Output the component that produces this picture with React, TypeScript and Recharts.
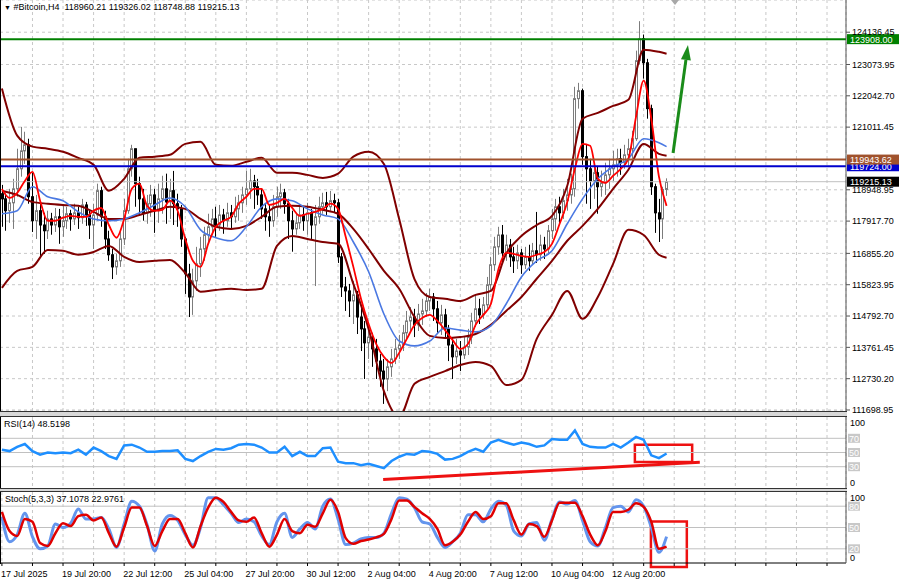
import React from "react";
import {
  ComposedChart,
  Bar,
  Line,
  XAxis,
  YAxis,
  CartesianGrid,
  ReferenceLine,
  ReferenceArea,
} from "recharts";

const FONT = "'Liberation Sans', Arial, sans-serif";

// H4 candles, bar 0 = 17 Jul 2025 04:00; open = previous close
const firstOpen = 118820;
const closes = [
  118650, 118260, 118520, 118980, 119640, 120230, 120430, 118720, 117930, 118260,
  117790, 117600, 117990, 117790, 118060, 117730, 117930, 118160, 117990, 118190,
  118030, 118450, 118120, 117790, 118120, 118920, 118060, 117330, 116810, 116410,
  116610, 117330, 118260, 119640, 120300, 119150, 118650, 118190, 118490, 118780,
  118260, 118650, 118980, 118550, 118920, 118490, 118320, 117330, 116180, 115420,
  115950, 116510, 117000, 117470, 117730, 117990, 117790, 118120, 117930, 118190,
  118060, 118320, 118520, 118780, 118980, 119240, 119050, 118780, 118320, 118060,
  117930, 118390, 118720, 118850, 118490, 117930, 117660, 117860, 118120, 117930,
  118190, 117790, 118060, 118390, 118520, 118390, 118590, 118520, 116740, 115750,
  115620, 115290, 115490, 114760, 114370, 113910, 114100, 113710, 113310, 112980,
  112720, 113120, 113380, 113710, 113840, 114240, 114630, 114760, 114500, 114860,
  114960, 115290, 115420, 115030, 114570, 114830, 114370, 113840, 113450, 113640,
  113510, 113770, 114100, 114630, 115030, 114830, 115160, 115820, 116480, 117070,
  117460, 116870, 117130, 116740, 116610, 116870, 116480, 116740, 116610, 116940,
  116810, 117130, 117000, 117600, 117990, 118390, 118190, 118590, 118780, 118980,
  121950, 122210, 120040, 119640, 119240, 119510, 119050, 119180, 119440, 119640,
  119770, 119970, 119840, 120100, 120300, 120630, 123200, 123920, 123130, 121620,
  119050, 118190, 117990, 118960, 119215.13,
];
const highs = [
  119110, 118820, 118980, 119310, 120300, 121020, 120860, 120630, 119510, 118780,
  118490, 118190, 118260, 118190, 118350, 118320, 118420, 118390, 118290, 118490,
  118390, 118650, 118550, 118260, 118490, 119150, 119050, 118260, 117600, 117000,
  116840, 117660, 118650, 119970, 120430, 120300, 119380, 118980, 118780, 119110,
  118980, 119150, 119410, 119480, 119310, 119570, 118820, 118450, 117400, 116510,
  116350, 117070, 117400, 117730, 118160, 118320, 118390, 118450, 118320, 118520,
  118450, 118720, 118780, 119050, 119570, 119640, 119440, 119310, 118980, 118490,
  118450, 118780, 119050, 119150, 118980, 118650, 118260, 118190, 118450, 118390,
  118520, 118320, 118450, 118720, 118850, 118880, 118910, 118820, 118650, 116870,
  116080, 115850, 115950, 115620, 115090, 114630, 114370, 114240, 114040, 113540,
  113380, 113380, 113710, 114040, 114170, 114500, 114960, 115090, 115030, 115190,
  115360, 115550, 115690, 115550, 115290, 115160, 115030, 114500, 114100, 114040,
  113970, 114100, 114370, 114900, 115490, 115360, 115420, 116080, 116740, 117400,
  117730, 117790, 117470, 117330, 117070, 117140, 117000, 117070, 117140, 117200,
  118220, 117470, 117400, 117790, 118320, 118650, 118720, 118980, 119310, 119480,
  122340, 122470, 122280, 120430, 119970, 119840, 119710, 119580, 119840, 119970,
  120230, 120300, 120300, 120430, 120630, 120890, 123530, 124500, 124060, 123260,
  121750, 119150, 118650, 119050, 119326.02,
];
const lows = [
  117730, 117600, 117860, 117660, 118720, 119380, 119800, 118490, 117560, 117330,
  116770, 116840, 117330, 117470, 117560, 117170, 117400, 117660, 117600, 117790,
  117660, 117830, 117760, 117330, 117000, 117930, 117730, 117000, 116610, 116010,
  116150, 116410, 117130, 118160, 119380, 118390, 118160, 117930, 117830, 118060,
  117530, 117860, 118160, 117830, 117990, 117790, 117730, 117070, 115520, 114760,
  114830, 115620, 116080, 116610, 117170, 117470, 117400, 117600, 117500, 117730,
  117660, 117860, 117930, 118190, 118450, 118650, 118320, 118450, 117990, 117600,
  117400, 117730, 118060, 118320, 118160, 117330, 116910, 117470, 117660, 117600,
  117470, 117330, 115780, 117830, 118160, 118120, 118260, 118190, 116540, 115420,
  114960, 114760, 114530, 114200, 113640, 112720, 113380, 113120, 112720, 112460,
  111900, 112320, 112790, 113210, 113380, 113640, 114040, 114300, 114100, 114300,
  114500, 114760, 114960, 114630, 114240, 114170, 114040, 113310, 112720, 113210,
  112980, 113380, 113510, 113870, 114430, 114530, 114700, 115030, 115620, 116280,
  116810, 116610, 116610, 116410, 116210, 116340, 116180, 116340, 116280, 116480,
  116540, 116610, 116670, 116810, 117330, 117600, 117790, 117990, 118260, 118490,
  118720, 121620, 119770, 118490, 118320, 118650, 118160, 118720, 118780, 118980,
  119240, 119380, 119440, 119640, 119710, 119970, 120560, 123070, 122610, 121290,
  118780, 117530, 117230, 117330, 118748.88,
];

// red fast MA, one value every 2 bars (0, 2, ... 174)
const fastMA = [
  118980, 118680, 118850, 119240, 119540, 118590, 117930, 117930, 118030, 118090,
  118060, 118060, 118260, 118350, 117790, 117370, 117990, 118980, 119150, 118420,
  118260, 118290, 118590, 118260, 117330, 116610, 116410, 117170, 117730, 117930,
  118060, 118490, 118720, 118980, 118980, 118450, 118520, 118650, 118350, 118090,
  118160, 118220, 118320, 118490, 118320, 117400, 116410, 115360, 114530, 113870,
  113450, 113250, 113580, 114040, 114500, 114730, 114830, 114630, 114330, 114000,
  113710, 113870, 114500, 114830, 115190, 116340, 116870, 116840, 116770, 116740,
  116810, 116900, 117170, 117830, 118550, 119640, 120460, 120400, 119310, 119180,
  119410, 119640, 119970, 121350, 122540, 121290, 119380, 118420,
];

// blue MA and Bollinger bands, one value every 4 bars (0, 4, ... 172, 174)
const slowMA = [
  118160, 118260, 119050, 118720, 118590, 118220, 117990, 117930, 117990, 118190,
  118450, 118680, 118390, 117630, 117370, 117270, 117730, 118390, 118650, 118590,
  118320, 118120, 117990, 117230, 116250, 114860, 113970, 113810, 113970, 114400,
  114330, 114270, 114470, 115190, 116080, 116610, 116940, 117830, 118650, 119310,
  119710, 119970, 120630, 120500, 120370,
];
const bandUpper = [
  122280, 120730, 120370, 120300, 120200, 120000, 119770, 118920, 119310, 120000,
  120040, 120100, 120460, 120530, 119770, 119740, 119870, 120000, 119510, 119510,
  119440, 119340, 119480, 120040, 120200, 119800, 117990, 116010, 115420, 115360,
  115290, 115490, 115620, 116840, 117430, 117790, 118090, 119080, 121290, 121480,
  121710, 121910, 123560, 123490, 123430,
];
const bandMid = [
  118920, 118780, 118550, 118490, 118450, 118420, 118220, 117990, 117990, 118120,
  118260, 118390, 118320, 117990, 117730, 117660, 117760, 118060, 118390, 118420,
  118390, 118290, 118160, 117660, 117000, 116280, 115690, 114760, 114140, 114070,
  114100, 114200, 114500, 114960, 115420, 116020, 116610, 117270, 117760, 118320,
  118980, 119610, 120460, 120130, 120070,
];
const bandLower = [
  115720, 116280, 116410, 116970, 116940, 116810, 116900, 117100, 116740, 116570,
  116610, 116640, 116210, 115590, 115650, 115690, 115650, 115690, 117100, 117430,
  117330, 117230, 117170, 115850, 114370, 112320, 111470, 112560, 112790, 112980,
  113180, 113280, 113150, 112520, 112690, 114040, 114830, 115620, 114700, 115420,
  116510, 117630, 117460, 116810, 116710,
];

// indicator windows, one value every 2 bars
const rsi = [
  54, 52, 58, 62, 52, 47, 50, 49, 50, 49,
  54, 47, 57, 52, 45, 41, 60, 61, 57, 51,
  51, 52, 52, 53, 41, 38, 45, 51, 55, 54,
  56, 61, 62, 61, 57, 50, 50, 58, 45, 51,
  45, 45, 56, 57, 37, 35, 35, 32, 34, 31,
  28, 38, 44, 48, 47, 52, 51, 48, 40, 41,
  45, 51, 55, 51, 64, 68, 64, 61, 64, 62,
  58, 60, 69, 68, 68, 81, 62, 58, 57, 57,
  62, 57, 64, 72, 68, 46, 42, 48.5198,
];
const stochK = [
  65, 30, 40, 70, 37, 20, 24, 55, 50, 56,
  76, 62, 62, 64, 48, 22, 55, 87, 80, 54,
  17, 55, 67, 60, 40, 25, 50, 92, 92, 82,
  70, 57, 62, 58, 38, 26, 58, 70, 36, 48,
  57, 48, 80, 90, 62, 26, 28, 34, 36, 36,
  42, 70, 92, 90, 78, 58, 55, 36, 22, 30,
  42, 68, 68, 58, 76, 87, 82, 45, 38, 55,
  57, 32, 62, 86, 83, 88, 60, 30, 24, 50,
  78, 80, 72, 89, 80, 50, 15, 37.1078,
];
const stochD = [
  72, 45, 38, 62, 58, 28, 24, 42, 56, 52,
  66, 68, 60, 64, 42, 23, 50, 78, 78, 52,
  24, 45, 62, 62, 42, 22, 52, 78, 92, 86,
  72, 60, 58, 64, 42, 23, 40, 62, 45, 42,
  54, 51, 70, 89, 72, 35, 27, 31, 33, 36,
  41, 62, 88, 88, 79, 70, 62, 48, 25, 30,
  40, 58, 72, 62, 66, 84, 84, 60, 40, 55,
  52, 37, 60, 85, 85, 85, 66, 40, 25, 45,
  72, 72, 75, 84, 79, 58, 20, 22.9761,
];

const priceTicks = [
  124136.45, 123073.95, 122042.7, 121011.45, 118948.95, 117917.7, 116855.2,
  115823.95, 114792.7, 113761.45, 112730.2, 111698.95,
];
const timeLabels = [
  "17 Jul 2025", "19 Jul 20:00", "22 Jul 12:00", "25 Jul 04:00", "27 Jul 20:00",
  "30 Jul 12:00", "2 Aug 04:00", "4 Aug 20:00", "7 Aug 12:00", "10 Aug 04:00",
  "12 Aug 20:00",
];

const resistance = 123908.0;
const brownLevel = 119943.62;
const blueLevel = 119724.0;
const bid = 119215.13;

const X_DOMAIN: [number, number] = [-0.5, 220.97];
const gridBars = Array.from({ length: 28 }, (_, k) => k * 8);

const fastBars = fastMA.map((_, k) => k * 2);
const slowBars = slowMA.map((_, k) => Math.min(k * 4, closes.length - 1));

const priceRows: Record<string, number>[] = closes.map((close, i) => {
  const open = i === 0 ? firstOpen : closes[i - 1];
  return {
    i,
    open,
    close,
    high: Math.max(highs[i], open, close),
    low: Math.min(lows[i], open, close),
  };
});
fastBars.forEach((b, k) => {
  priceRows[b].fast = fastMA[k];
});
slowBars.forEach((b, k) => {
  priceRows[b].slow = slowMA[k];
  priceRows[b].upper = bandUpper[k];
  priceRows[b].mid = bandMid[k];
  priceRows[b].lower = bandLower[k];
});

const rsiRows = rsi.map((v, k) => ({ i: k * 2, rsi: v }));
const stochRows = stochK.map((v, k) => ({ i: k * 2, k: v, d: stochD[k] }));

function Candle(props: any) {
  const { x, y, width, height, payload } = props;
  if (!payload || y == null || height == null || isNaN(y)) return <g />;
  const top = Math.min(y, y + height);
  const h = Math.abs(height);
  const span = payload.high - payload.low || 1;
  const py = (v: number) => top + ((payload.high - v) / span) * h;
  const cx = Math.round(x + width / 2) + 0.5;
  const up = payload.close >= payload.open;
  const bTop = py(Math.max(payload.open, payload.close));
  const bBot = py(Math.min(payload.open, payload.close));
  const col = up ? "#7c7c7c" : "#000";
  return (
    <g>
      <line x1={cx} x2={cx} y1={top} y2={top + h} stroke={col} strokeWidth={1} />
      <rect
        x={cx - 1}
        y={bTop}
        width={2}
        height={Math.max(bBot - bTop, 0.8)}
        fill={up ? "#fff" : "#000"}
        stroke={col}
        strokeWidth={1}
      />
    </g>
  );
}

function PriceTag(props: any) {
  const { viewBox, text, bg } = props;
  if (!viewBox) return null;
  const x = (viewBox.x ?? 0) + (viewBox.width ?? 846) + 1;
  const y = viewBox.y ?? 0;
  return (
    <g>
      <rect x={x} y={y - 5} width={52} height={10} fill={bg} />
      <text x={x + 3} y={y + 3.5} fontSize={9} fontFamily={FONT} fill="#fff">
        {text}
      </text>
    </g>
  );
}

function Arrow(props: any) {
  const { x1, y1, x2, y2 } = props;
  if ([x1, y1, x2, y2].some((v) => v == null || isNaN(v))) return <g />;
  const ang = Math.atan2(y2 - y1, x2 - x1);
  const bx = x2 - 15 * Math.cos(ang);
  const by = y2 - 15 * Math.sin(ang);
  const px = -Math.sin(ang) * 5;
  const py = Math.cos(ang) * 5;
  return (
    <g>
      <line x1={x1} y1={y1} x2={bx} y2={by} stroke="#1a8c1a" strokeWidth={3} />
      <polygon
        points={`${x2},${y2} ${bx + px},${by + py} ${bx - px},${by - py}`}
        fill="#1a8c1a"
      />
    </g>
  );
}

function LevelTick(props: any) {
  const { x, y, payload, boxed } = props;
  const v = payload.value;
  if (boxed.includes(v)) {
    return (
      <g>
        <rect x={x - 4} y={y - 4.5} width={12} height={9} fill="#c8c8c8" />
        <text x={x - 3} y={y + 3.5} fontSize={9} fontFamily={FONT} fill="#fff">
          {v}
        </text>
      </g>
    );
  }
  return (
    <text x={x - 2} y={v === 100 ? y + 9 : y - 2.5} fontSize={9} fontFamily={FONT} fill="#000">
      {v}
    </text>
  );
}

function TimeTick(props: any) {
  const { x, y, payload } = props;
  const v = payload.value;
  const idx = v / 16;
  if (v % 16 !== 0 || idx >= timeLabels.length) return <g />;
  return (
    <text x={x - 1} y={y + 9} fontSize={9} fontFamily={FONT} fill="#000">
      {timeLabels[idx]}
    </text>
  );
}

const gridProps = { stroke: "#c8c8c8", strokeDasharray: "3 3" };
const lineBase = { dot: false, activeDot: false, isAnimationActive: false, connectNulls: true };

function Rule({ style }: { style: React.CSSProperties }) {
  return <div style={{ position: "absolute", background: "#000", ...style }} />;
}

export default function App() {
  return (
    <div
      style={{
        position: "absolute",
        left: 0,
        top: 0,
        width: 900,
        height: 586,
        background: "#fff",
        overflow: "hidden",
        fontFamily: FONT,
      }}
    >
      {/* main price window */}
      <div style={{ position: "absolute", left: 0, top: 0 }}>
        <ComposedChart width={900} height={417} data={priceRows} margin={{ top: 0, right: 0, bottom: 6, left: 0 }}>
          <CartesianGrid {...gridProps} />
          <XAxis dataKey="i" type="number" domain={X_DOMAIN} ticks={gridBars} hide />
          <YAxis
            orientation="right"
            width={54}
            domain={[111666, 125197]}
            ticks={priceTicks}
            interval={0}
            allowDataOverflow
            tickSize={4}
            stroke="#555"
            tick={{ fontSize: 9, fill: "#000", fontFamily: FONT }}
            tickFormatter={(v: number) => v.toFixed(2)}
          />
          <ReferenceLine y={bid} stroke="#c0c0c0" />
          <Bar
            dataKey={(d: any) => [d.low, d.high]}
            shape={<Candle />}
            barSize={3}
            isAnimationActive={false}
          />
          <Line dataKey="upper" type="monotone" stroke="#800000" strokeWidth={2} {...lineBase} />
          <Line dataKey="mid" type="monotone" stroke="#800000" strokeWidth={2} {...lineBase} />
          <Line dataKey="lower" type="monotone" stroke="#800000" strokeWidth={2} {...lineBase} />
          <Line dataKey="slow" type="monotone" stroke="#4a78e2" strokeWidth={1.6} {...lineBase} />
          <Line dataKey="fast" type="monotone" stroke="#ff0000" strokeWidth={1.8} {...lineBase} />
          <ReferenceLine
            y={blueLevel}
            stroke="#0000cd"
            strokeWidth={2}
            label={<PriceTag text="119724.00" bg="#0000cd" />}
          />
          <ReferenceLine
            y={brownLevel}
            stroke="#a0522d"
            strokeWidth={2}
            label={<PriceTag text="119943.62" bg="#a0522d" />}
          />
          <ReferenceLine
            y={resistance}
            stroke="#008000"
            strokeWidth={2}
            label={<PriceTag text="123908.00" bg="#008000" />}
          />
          <ReferenceLine y={bid} stroke="none" label={<PriceTag text="119215.13" bg="#000" />} />
          <ReferenceLine
            segment={[
              { x: 175.7, y: 120160 },
              { x: 179.6, y: 123716 },
            ]}
            shape={(p: any) => <Arrow {...p} />}
          />
        </ComposedChart>
      </div>

      {/* RSI window */}
      <div style={{ position: "absolute", left: 0, top: 417 }}>
        <ComposedChart width={900} height={71} data={rsiRows} margin={{ top: 0, right: 0, bottom: 0, left: 0 }}>
          <CartesianGrid {...gridProps} horizontal={false} />
          <XAxis dataKey="i" type="number" domain={X_DOMAIN} ticks={gridBars} hide />
          <YAxis
            orientation="right"
            width={54}
            domain={[0, 100]}
            ticks={[100, 70, 50, 30, 0]}
            interval={0}
            tickSize={4}
            tickLine={false}
            stroke="#555"
            tick={<LevelTick boxed={[70, 50, 30]} />}
          />
          <ReferenceLine y={70} stroke="#c0c0c0" />
          <ReferenceLine y={50} stroke="#c0c0c0" />
          <ReferenceLine y={30} stroke="#c0c0c0" />
          <Line dataKey="rsi" type="linear" stroke="#1e8fff" strokeWidth={2.5} {...lineBase} />
          <ReferenceArea x1={165.7} x2={180.7} y1={36.7} y2={61} fill="none" stroke="#ee1111" strokeWidth={2.5} />
          <ReferenceLine
            segment={[
              { x: 99.8, y: 12 },
              { x: 182.7, y: 36.3 },
            ]}
            stroke="#ee1111"
            strokeWidth={3}
          />
        </ComposedChart>
      </div>

      {/* Stochastic window with time axis */}
      <div style={{ position: "absolute", left: 0, top: 492 }}>
        <ComposedChart width={900} height={94} data={stochRows} margin={{ top: 0, right: 0, bottom: 0, left: 0 }}>
          <CartesianGrid {...gridProps} horizontal={false} />
          <XAxis
            dataKey="i"
            type="number"
            domain={X_DOMAIN}
            ticks={gridBars}
            interval={0}
            height={23}
            tickSize={3}
            stroke="#000"
            tick={<TimeTick />}
          />
          <YAxis
            orientation="right"
            width={54}
            domain={[0, 100]}
            ticks={[100, 80, 50, 20, 0]}
            interval={0}
            tickSize={4}
            tickLine={false}
            stroke="#555"
            tick={<LevelTick boxed={[80, 50, 20]} />}
          />
          <ReferenceLine y={80} stroke="#c0c0c0" />
          <ReferenceLine y={50} stroke="#c0c0c0" />
          <ReferenceLine y={20} stroke="#c0c0c0" />
          <Line dataKey="k" type="monotone" stroke="#6495ed" strokeWidth={3} {...lineBase} />
          <Line dataKey="d" type="monotone" stroke="#e00000" strokeWidth={2.5} {...lineBase} />
          <ReferenceArea
            x1={169.9}
            x2={179.3}
            y1={-5.5}
            y2={58.3}
            ifOverflow="visible"
            fill="none"
            stroke="#ee1111"
            strokeWidth={2.5}
          />
        </ComposedChart>
      </div>

      {/* window frames */}
      <Rule style={{ left: 0, top: 0, width: 1, height: 564 }} />
      <Rule style={{ left: 0, top: 411, width: 847, height: 1, background: "#333" }} />
      <Rule style={{ left: 0, top: 412, width: 847, height: 4, background: "#d8d8d8" }} />
      <Rule style={{ left: 0, top: 416, width: 847, height: 1, background: "#333" }} />
      <Rule style={{ left: 0, top: 488, width: 847, height: 1, background: "#333" }} />
      <Rule style={{ left: 0, top: 489, width: 847, height: 2, background: "#d8d8d8" }} />
      <Rule style={{ left: 0, top: 491, width: 847, height: 1, background: "#333" }} />
      {/* chart shift marker */}
      <div
        style={{
          position: "absolute",
          left: 671,
          top: 0,
          width: 0,
          height: 0,
          borderLeft: "4px solid transparent",
          borderRight: "4px solid transparent",
          borderTop: "5px solid #a8a8a8",
        }}
      />

      {/* window captions */}
      <div style={{ position: "absolute", left: 4, top: 2, fontSize: 9, whiteSpace: "pre", color: "#000" }}>
        <span style={{ fontSize: 7 }}>▼</span> #Bitcoin,H4  118960.21 119326.02 118748.88 119215.13
      </div>
      <div style={{ position: "absolute", left: 4, top: 419, fontSize: 9, color: "#000" }}>RSI(14) 48.5198</div>
      <div style={{ position: "absolute", left: 5, top: 494, fontSize: 9, color: "#000" }}>
        Stoch(5,3,3) 37.1078 22.9761
      </div>
    </div>
  );
}
